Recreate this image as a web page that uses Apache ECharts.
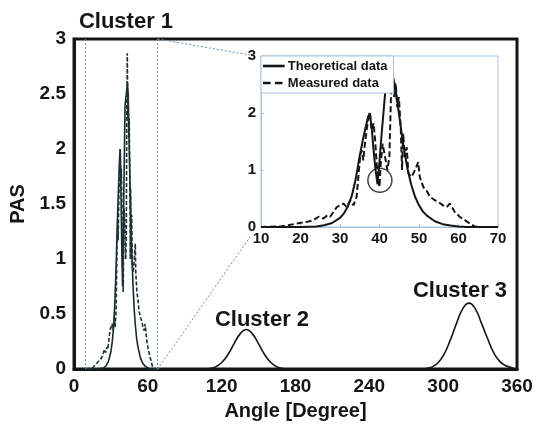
<!DOCTYPE html>
<html>
<head>
<meta charset="utf-8">
<script src="https://cdn.jsdelivr.net/npm/echarts/dist/echarts.min.js"></script>
<style>
  html, body { margin: 0; padding: 0; background: #fff; }
  #main { width: 538px; height: 426px; }
</style>
</head>
<body>
<div id="main"></div>
<script>
// cluster 1, theoretical curve (degrees / PAS)
const theoAngle = [10, 20, 24, 26, 28, 30, 31, 32, 33, 34, 35, 36, 37, 37.5, 38, 38.5, 39, 39.5, 40, 40.5, 41, 41.5, 42, 42.5, 43, 43.5, 44, 45, 46, 47, 48, 49, 50, 51, 52, 54, 56, 58, 60, 62, 70];
const theoPas = [0, 0, 0.01, 0.03, 0.07, 0.16, 0.24, 0.36, 0.55, 0.85, 1.25, 1.6, 1.9, 2.0, 1.75, 1.35, 1.0, 0.75, 1.15, 1.6, 2.0, 2.4, 2.45, 2.5, 2.56, 2.6, 2.45, 1.95, 1.45, 1.05, 0.75, 0.53, 0.38, 0.27, 0.2, 0.1, 0.05, 0.025, 0.01, 0, 0];

// cluster 1, measured curve
const measAngle = [10, 15, 16.6, 19.1, 21.6, 23.3, 24.6, 25.8, 26.7, 27.5, 29.2, 30.9, 31.7, 32.6, 33.4, 34.2, 35.1, 35.5, 35.9, 36.3, 37.2, 37.6, 38, 38.5, 38.9, 39.3, 39.7, 40, 40.3, 40.8, 41.4, 42, 42.5, 42.9, 43.3, 43.7, 44.1, 44.5, 44.9, 45.4, 45.7, 46, 46.4, 46.9, 47.3, 48.1, 49, 49.8, 50.2, 51.1, 51.9, 52.8, 54, 54.9, 56.1, 57, 57.8, 59.1, 60.3, 61.6, 62.9, 64.1, 66, 70];
const measPas = [0, 0.01, 0.03, 0.06, 0.09, 0.12, 0.18, 0.15, 0.2, 0.18, 0.35, 0.41, 0.35, 0.47, 0.38, 0.53, 1.23, 1.35, 1.17, 1.46, 1.93, 2.0, 1.7, 1.82, 1.52, 1.1, 0.82, 0.7, 1.1, 1.46, 1.23, 1.0, 1.23, 2.28, 2.87, 2.28, 2.52, 2.1, 2.28, 1.7, 1.0, 1.64, 1.23, 1.4, 0.94, 0.88, 1.0, 1.14, 0.88, 0.7, 0.64, 0.53, 0.47, 0.44, 0.38, 0.35, 0.41, 0.26, 0.18, 0.12, 0.06, 0.01, 0, 0];

// cluster 2 and cluster 3, theoretical
const c2Angle = [110, 115, 120, 125, 130, 135, 140, 145, 150, 155, 160, 165, 170];
const c2Pas = [0.005, 0.02, 0.06, 0.13, 0.23, 0.32, 0.36, 0.32, 0.23, 0.13, 0.06, 0.02, 0.005];
const c3Angle = [286, 291, 296, 301, 306, 311, 316, 321, 326, 331, 336, 341, 346, 351, 357];
const c3Pas = [0.005, 0.02, 0.06, 0.14, 0.27, 0.42, 0.55, 0.6, 0.55, 0.42, 0.28, 0.15, 0.07, 0.03, 0.01];

// zoomed window drawn on the main plot, and the circled dip
const zoomBox = [9, 68];
const dip = [40.1, 0.82];

const mainXTicks = [0, 360, 60];
const mainYTicks = [0, 3, 0.5];
const insetXTicks = [10, 70, 10];
const insetYTicks = [0, 3, 1];

const pairs = (xs, ys) => xs.map((x, i) => [x, ys[i]]);

const font = "Liberation Sans, Arial, sans-serif";
const ink = "#151515";
const paleBlue = "#a8c2dc";
const linkBlue = "#6d8ea8";

var chart = echarts.init(document.getElementById("main"), null, { renderer: "canvas" });

var option = {
  animation: false,
  backgroundColor: "#fff",
  grid: [
    { left: 72, top: 39, width: 445, height: 336, show: true, borderColor: ink, borderWidth: 3, backgroundColor: "transparent" },
    { left: 261, top: 56, width: 237, height: 171, show: true, borderColor: paleBlue, borderWidth: 1, backgroundColor: "#fff", z: 5 }
  ],
  xAxis: [
    {
      gridIndex: 0, type: "value", min: mainXTicks[0], max: mainXTicks[1], interval: mainXTicks[2],
      name: "Angle [Degree]", nameLocation: "middle", nameGap: 31,
      nameTextStyle: { fontFamily: font, fontWeight: "bold", fontSize: 20, color: ink },
      axisLine: { show: true, lineStyle: { color: ink, width: 3 } },
      axisTick: { show: false },
      splitLine: { show: false },
      axisLabel: { fontFamily: font, fontWeight: "bold", fontSize: 19, color: ink, margin: 8 }
    },
    {
      gridIndex: 1, type: "value", min: insetXTicks[0], max: insetXTicks[1], interval: insetXTicks[2], z: 6,
      axisLine: { show: true, lineStyle: { color: paleBlue, width: 1 } },
      axisTick: { show: true, inside: true, length: 3, lineStyle: { color: paleBlue } },
      splitLine: { show: false },
      axisLabel: { fontFamily: font, fontWeight: "bold", fontSize: 15, color: ink, margin: 4 }
    }
  ],
  yAxis: [
    {
      gridIndex: 0, type: "value", min: mainYTicks[0], max: mainYTicks[1], interval: mainYTicks[2],
      name: "PAS", nameLocation: "middle", nameGap: 46,
      nameTextStyle: { fontFamily: font, fontWeight: "bold", fontSize: 20, color: ink },
      axisLine: { show: true, lineStyle: { color: ink, width: 3 } },
      axisTick: { show: false },
      splitLine: { show: false },
      axisLabel: { fontFamily: font, fontWeight: "bold", fontSize: 19, color: ink, margin: 8 }
    },
    {
      gridIndex: 1, type: "value", min: insetYTicks[0], max: insetYTicks[1], interval: insetYTicks[2], z: 6,
      axisLine: { show: true, lineStyle: { color: paleBlue, width: 1 } },
      axisTick: { show: true, inside: true, length: 3, lineStyle: { color: paleBlue } },
      splitLine: { show: false },
      axisLabel: { fontFamily: font, fontWeight: "bold", fontSize: 15, color: ink, margin: 5 }
    }
  ],
  legend: {
    data: [
      { name: "Theoretical data", icon: "path://M0,0 H20 V2.4 H0 Z" },
      { name: "Measured data", icon: "path://M0,0 H7 V2.4 H0 Z M11,0 H18 V2.4 H11 Z M20,0 H20 V2.4 H20 Z" }
    ],
    orient: "vertical",
    left: 261, top: 56,
    padding: [3, 6, 3, 2],
    itemGap: 3,
    itemWidth: 22, itemHeight: 2.6,
    backgroundColor: "#fff",
    borderColor: paleBlue, borderWidth: 1,
    itemStyle: { color: ink },
    textStyle: { fontFamily: font, fontWeight: "bold", fontSize: 13, color: ink, lineHeight: 14, padding: [0, 0, 0, -2] },
    z: 10
  },
  series: [
    {
      name: "main-theoretical", type: "line", xAxisIndex: 0, yAxisIndex: 0,
      data: pairs(theoAngle, theoPas), showSymbol: false, symbol: "none",
      lineStyle: { color: "#142a2e", width: 1.6 }
    },
    {
      name: "main-measured", type: "line", xAxisIndex: 0, yAxisIndex: 0,
      data: pairs(measAngle, measPas), showSymbol: false, symbol: "none",
      lineStyle: { color: "#1d3236", width: 1.6, type: [4, 2] },
      markLine: {
        silent: true, symbol: "none",
        label: { show: false },
        lineStyle: { color: linkBlue, width: 1, type: [2, 2] },
        data: [{ xAxis: zoomBox[0] }, { xAxis: zoomBox[1] }]
      }
    },
    {
      name: "cluster2", type: "line", xAxisIndex: 0, yAxisIndex: 0,
      data: pairs(c2Angle, c2Pas), showSymbol: false, symbol: "none", smooth: true,
      lineStyle: { color: ink, width: 1.6 }
    },
    {
      name: "cluster3", type: "line", xAxisIndex: 0, yAxisIndex: 0,
      data: pairs(c3Angle, c3Pas), showSymbol: false, symbol: "none", smooth: true,
      lineStyle: { color: ink, width: 1.6 }
    },
    {
      name: "Theoretical data", type: "line", xAxisIndex: 1, yAxisIndex: 1, z: 7,
      data: pairs(theoAngle, theoPas), showSymbol: false, symbol: "none",
      itemStyle: { color: ink },
      lineStyle: { color: ink, width: 2 }
    },
    {
      name: "Measured data", type: "line", xAxisIndex: 1, yAxisIndex: 1, z: 7,
      data: pairs(measAngle, measPas), showSymbol: false, symbol: "none",
      itemStyle: { color: ink },
      lineStyle: { color: ink, width: 2, type: [6, 3] }
    },
    {
      name: "dip", type: "scatter", xAxisIndex: 1, yAxisIndex: 1, z: 8,
      data: [dip], symbol: "circle", symbolSize: 24, silent: true,
      itemStyle: { color: "rgba(0,0,0,0)", borderColor: ink, borderWidth: 1.5 }
    }
  ]
};

chart.setOption(option);

// dotted links from the zoom window to the inset
function link(fromPt, toPt, dx, dy) {
  var a = chart.convertToPixel({ gridIndex: 0 }, fromPt);
  var b = chart.convertToPixel({ gridIndex: 1 }, toPt);
  return {
    type: "line", silent: true, z: 4,
    shape: { x1: a[0], y1: a[1], x2: b[0] + dx, y2: b[1] + dy },
    style: { stroke: linkBlue, lineWidth: 1, lineDash: [2, 2] }
  };
}

function label(text, x, y) {
  return {
    type: "text", x: x, y: y, silent: true, z: 20,
    style: { text: text, font: "bold 22px " + font, fill: ink, align: "center", verticalAlign: "middle" }
  };
}

chart.setOption({
  graphic: [
    link([zoomBox[1], mainYTicks[1]], [insetXTicks[0], insetYTicks[1]], -11, -1),
    link([zoomBox[1], mainYTicks[0]], [insetXTicks[0], insetYTicks[0]], -11, 10),
    label("Cluster 1", 126, 22),
    label("Cluster 2", 262, 320),
    label("Cluster 3", 460, 291)
  ]
});
</script>
</body>
</html>
